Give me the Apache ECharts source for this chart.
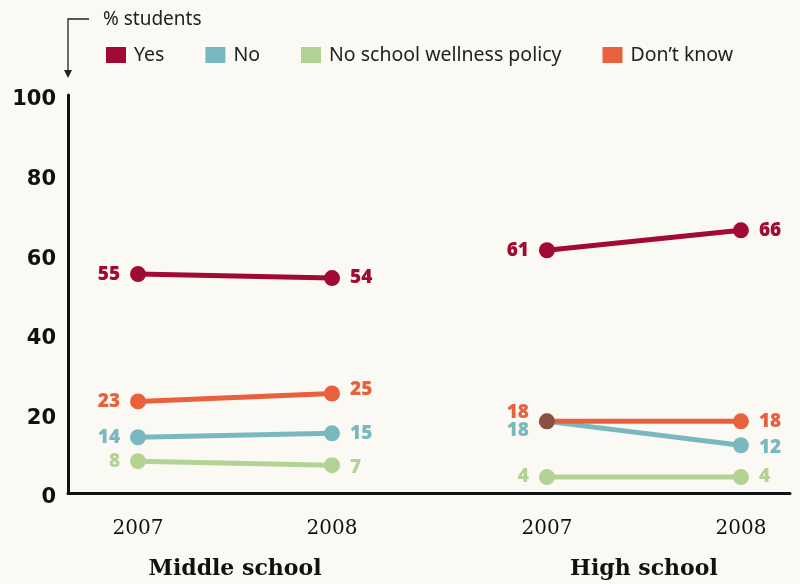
<!DOCTYPE html>
<html>
<head>
<meta charset="utf-8">
<script src="https://cdn.jsdelivr.net/npm/echarts@6/dist/echarts.min.js"></script>
<style>
html,body{margin:0;padding:0;background:#faf9f4;}
#chart{width:800px;height:584px;}
</style>
</head>
<body>
<div id="chart"></div>
<script>
// ---- data ----
const years = ['2007', '2008'];
const groups = ['Middle school', 'High school'];
const seriesNames = ['Yes', 'No', 'No school wellness policy', "Don\u2019t know"];
const yesMS = [55, 54];
const noMS = [14, 15];
const noPolicyMS = [8, 7];
const dontKnowMS = [23, 25];
const yesHS = [61, 66];
const noHS = [18, 12];
const noPolicyHS = [4, 4];
const dontKnowHS = [18, 18];
const yTicks = [0, 20, 40, 60, 80, 100];

// ---- layout / style ----
const slotPos = [[0, 1], [2.108, 3.108]];
const groupPos = [0.5, 2.608];
const colors = ['#a00a33', '#7ab8bf', '#b3d395', '#e8603c'];
const overlapColor = '#8a5141';

const chart = echarts.init(document.getElementById('chart'));

function mk(name, vals, groupIdx, colorIdx, extra) {
  extra = extra || {};
  const data = vals.map((v, i) => {
    const item = { value: [slotPos[groupIdx][i], v] };
    const lab = { position: i === 0 ? 'left' : 'right' };
    if (extra.offsets && extra.offsets[i]) lab.offset = extra.offsets[i];
    item.label = lab;
    if (extra.pointColors && extra.pointColors[i]) item.itemStyle = { color: extra.pointColors[i] };
    return item;
  });
  return {
    name: name,
    type: 'line',
    data: data,
    z: extra.z || 2,
    symbol: 'circle',
    symbolSize: 16,
    lineStyle: { width: 5, color: colors[colorIdx] },
    itemStyle: { color: colors[colorIdx] },
    label: {
      show: true,
      distance: 10,
      color: colors[colorIdx],
      fontFamily: 'Open Sans',
      fontWeight: 800,
      fontSize: 19,
      formatter: p => String(p.value[1])
    },
    emphasis: { disabled: true },
    animation: false
  };
}

const series = [
  mk(seriesNames[0], yesMS, 0, 0),
  mk(seriesNames[1], noMS, 0, 1),
  mk(seriesNames[2], noPolicyMS, 0, 2, { offsets: [null, [0, 2]] }),
  mk(seriesNames[3], dontKnowMS, 0, 3, { offsets: [null, [0, -4]] }),
  mk(seriesNames[0], yesHS, 1, 0),
  mk(seriesNames[1], noHS, 1, 1, { offsets: [[0, 9], [0, 2]] }),
  mk(seriesNames[2], noPolicyHS, 1, 2),
  mk(seriesNames[3], dontKnowHS, 1, 3, { offsets: [[0, -9], null], pointColors: [overlapColor, null], z: 3 })
];

const xMin = -0.361, xMax = 3.361;
const allSlots = [slotPos[0][0], slotPos[0][1], slotPos[1][0], slotPos[1][1]];

chart.setOption({
  backgroundColor: '#faf9f4',
  animation: false,
  title: {
    text: '% students',
    left: 98, top: 5,
    textStyle: { fontFamily: 'Noto Sans', fontWeight: 400, fontSize: 19, color: '#222' }
  },
  legend: {
    data: seriesNames,
    left: 101, top: 40,
    icon: 'rect',
    itemWidth: 20, itemHeight: 16,
    itemGap: 41,
    selectedMode: false,
    textStyle: { fontFamily: 'Noto Sans', fontSize: 19.5, color: '#222', padding: [0, 0, 0, 3] }
  },
  grid: { left: 68, right: 10, top: 95, bottom: 91, containLabel: false },
  xAxis: [{
    type: 'value', min: xMin, max: xMax,
    splitLine: { show: false },
    axisLine: { show: true, onZero: false, lineStyle: { color: '#111', width: 3 } },
    axisTick: { show: false },
    axisLabel: {
      customValues: allSlots,
      formatter: v => {
        let best = 0;
        allSlots.forEach((p, i) => { if (Math.abs(p - v) < Math.abs(allSlots[best] - v)) best = i; });
        return years[best % 2];
      },
      margin: 26,
      fontFamily: 'DejaVu Serif', fontSize: 20, color: '#111'
    }
  }, {
    type: 'value', min: xMin, max: xMax, position: 'bottom',
    splitLine: { show: false },
    axisLine: { show: false },
    axisTick: { show: false },
    axisLabel: {
      customValues: groupPos,
      formatter: v => groups[v < 1.5 ? 0 : 1],
      margin: 65,
      fontFamily: 'DejaVu Serif', fontWeight: 700, fontSize: 22, color: '#111'
    }
  }],
  yAxis: {
    type: 'value', min: 0, max: 100, interval: 20,
    splitLine: { show: false },
    axisLine: { show: true, onZero: false, lineStyle: { color: '#111', width: 3 } },
    axisTick: { show: false },
    axisLabel: {
      margin: 12,
      verticalAlign: 'top',
      lineHeight: 10,
      fontFamily: 'DejaVu Sans', fontWeight: 700, fontSize: 21, color: '#111',
      formatter: v => yTicks.indexOf(v) >= 0 ? String(v) : ''
    }
  },
  graphic: [
    { type: 'polyline', shape: { points: [[89, 19], [68, 19], [68, 71]] }, style: { stroke: '#222', lineWidth: 1.3, fill: null } },
    { type: 'polygon', shape: { points: [[64, 70], [72, 70], [68, 78]] }, style: { fill: '#222' } }
  ],
  series: series
});
</script>
</body>
</html>
